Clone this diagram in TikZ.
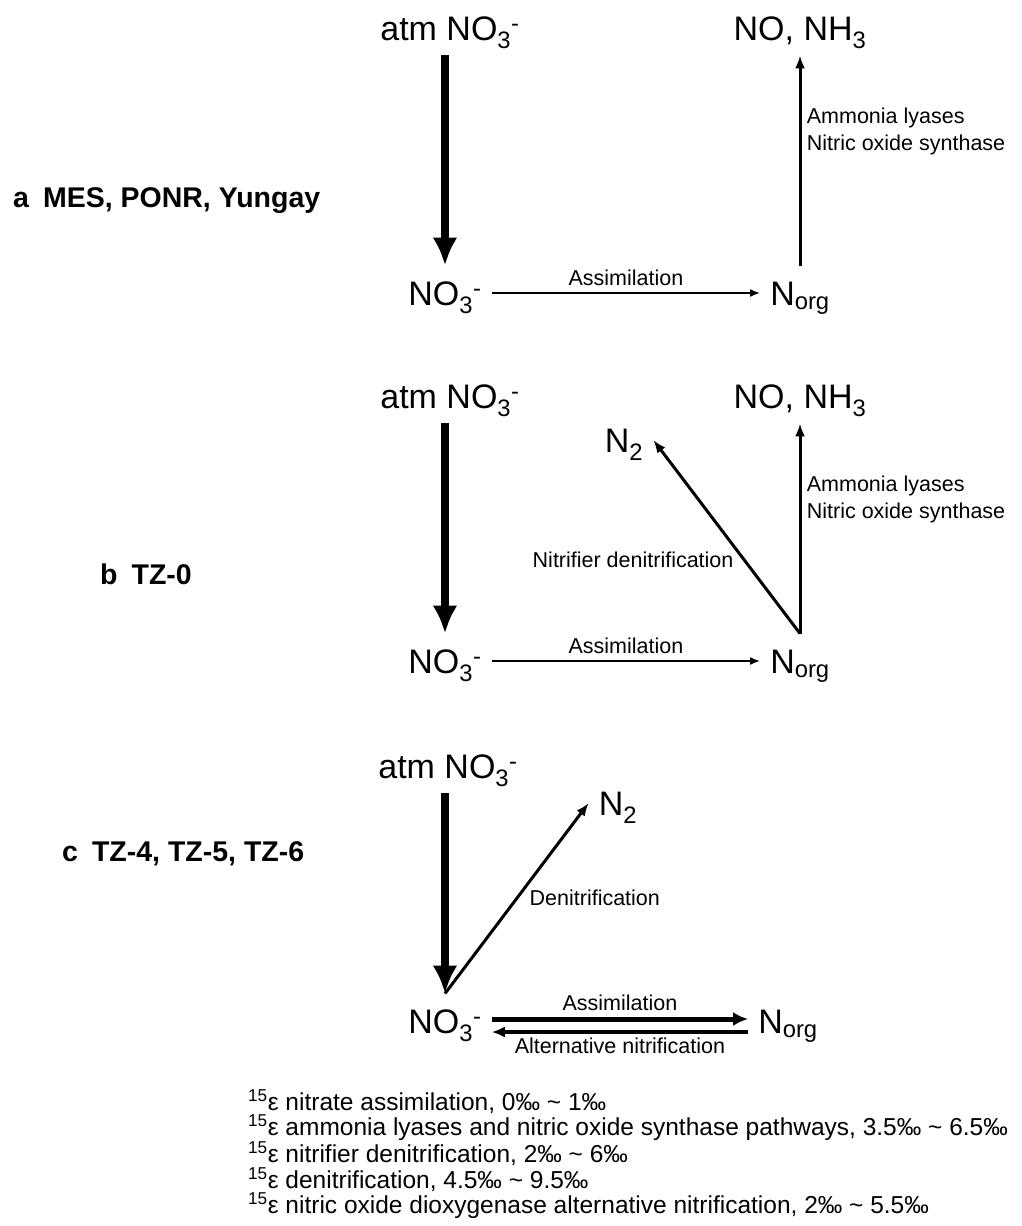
\documentclass[tikz,border=0pt]{standalone}
\usepackage{fontspec}
\setmainfont{Liberation Sans}
\usetikzlibrary{arrows.meta}
\tikzset{>=Latex}
\tikzset{
  species/.style={font=\fontsize{34}{40}\selectfont, text height=24.5pt, text depth=0pt, inner xsep=10pt, inner ysep=15pt},
  lbl/.style={font=\fontsize{21.5}{27}\selectfont},
  panel/.style={font=\fontsize{28.5}{32}\selectfont\bfseries, anchor=base west, inner sep=0pt},
  bigflux/.style={line width=8.5pt, -{Latex[length=28pt,width=25pt]}},
  thinflux/.style={line width=1.8pt, -{Latex[length=10pt,width=8pt]}},
  midflux/.style={line width=3pt, -{Latex[length=13pt,width=10pt]}},
  assimflux/.style={line width=5pt, -{Latex[length=15pt,width=14pt]}},
  backflux/.style={line width=3.2pt, -{Latex[length=13pt,width=11pt]}}
}

\begin{document}
\begin{tikzpicture}[x=1pt, y=-1pt]
    \useasboundingbox (0,0) rectangle (1021,1226);

    % panel a
    \node[panel] (labA) at (13,207) {a\hspace{14pt}MES, PONR, Yungay};
    \node[species] (atmA) at (450,28) {atm NO\textsubscript{3}\textsuperscript{-}};
    \node[species] (nonhA) at (800,28) {NO, NH\textsubscript{3}};
    \node[species] (no3A) at (445,293) {NO\textsubscript{3}\textsuperscript{-}};
    \node[species] (norgA) at (800,293) {N\textsubscript{org}};

    \draw[bigflux] (no3A.north |- atmA.south) -- (no3A.north);
    \draw[thinflux] (no3A.east) -- (norgA.west) node[lbl, midway, above=3pt] (asA) {Assimilation};
    \draw[midflux] (norgA.north) -- (nonhA.south) node[lbl, pos=0.64, right=2pt, align=left] (enzA) {Ammonia lyases\\Nitric oxide synthase};

    % panel b
    \node[panel] (labB) at (100,584) {b\hspace{14pt}TZ-0};
    \node[species] (atmB) at (450,396) {atm NO\textsubscript{3}\textsuperscript{-}};
    \node[species] (nonhB) at (800,396) {NO, NH\textsubscript{3}};
    \node[species] (n2B) at (624,440) {N\textsubscript{2}};
    \node[species] (no3B) at (445,661) {NO\textsubscript{3}\textsuperscript{-}};
    \node[species] (norgB) at (800,661) {N\textsubscript{org}};

    \draw[bigflux] (no3B.north |- atmB.south) -- (no3B.north);
    \draw[thinflux] (no3B.east) -- (norgB.west) node[lbl, midway, above=3pt] (asB) {Assimilation};
    \draw[midflux] (norgB.north) -- (nonhB.south) node[lbl, pos=0.64, right=2pt, align=left] (enzB) {Ammonia lyases\\Nitric oxide synthase};
    \draw[midflux] (norgB.north) -- (n2B.east) node[lbl, pos=0.38, left=6pt] (ndB) {Nitrifier denitrification};

    % panel c
    \node[panel] (labC) at (62,861) {c\hspace{14pt}TZ-4, TZ-5, TZ-6};
    \node[species] (atmC) at (448,766) {atm NO\textsubscript{3}\textsuperscript{-}};
    \node[species] (n2C) at (618,803) {N\textsubscript{2}};
    \node[species] (no3C) at (445,1021) {NO\textsubscript{3}\textsuperscript{-}};
    \node[species] (norgC) at (788,1021) {N\textsubscript{org}};

    \draw[bigflux] (no3C.north |- atmC.south) -- (no3C.north);
    \draw[midflux] (no3C.north) -- (n2C.west) node[lbl, midway, right=8pt] (dnC) {Denitrification};
    \draw[assimflux] ([yshift=2pt]no3C.east) -- ([yshift=2pt]norgC.west) node[lbl, midway, above=2pt] (asC) {Assimilation};
    \draw[backflux] ([yshift=-11pt]norgC.west) -- ([yshift=-11pt]no3C.east) node[lbl, midway, below=1pt] (anC) {Alternative nitrification};

    % fractionation factors
    \node[anchor=north west, inner sep=0pt, align=left, font=\fontsize{24.5}{25.6}\selectfont] (legend) at (248,1089) {%
        \textsuperscript{15}ε nitrate assimilation, 0‰ \textasciitilde{} 1‰\\
        \textsuperscript{15}ε ammonia lyases and nitric oxide synthase pathways, 3.5‰ \textasciitilde{} 6.5‰\\
        \textsuperscript{15}ε nitrifier denitrification, 2‰ \textasciitilde{} 6‰\\
        \textsuperscript{15}ε denitrification, 4.5‰ \textasciitilde{} 9.5‰\\
        \textsuperscript{15}ε nitric oxide dioxygenase alternative nitrification, 2‰ \textasciitilde{} 5.5‰};
\end{tikzpicture}
\end{document}
